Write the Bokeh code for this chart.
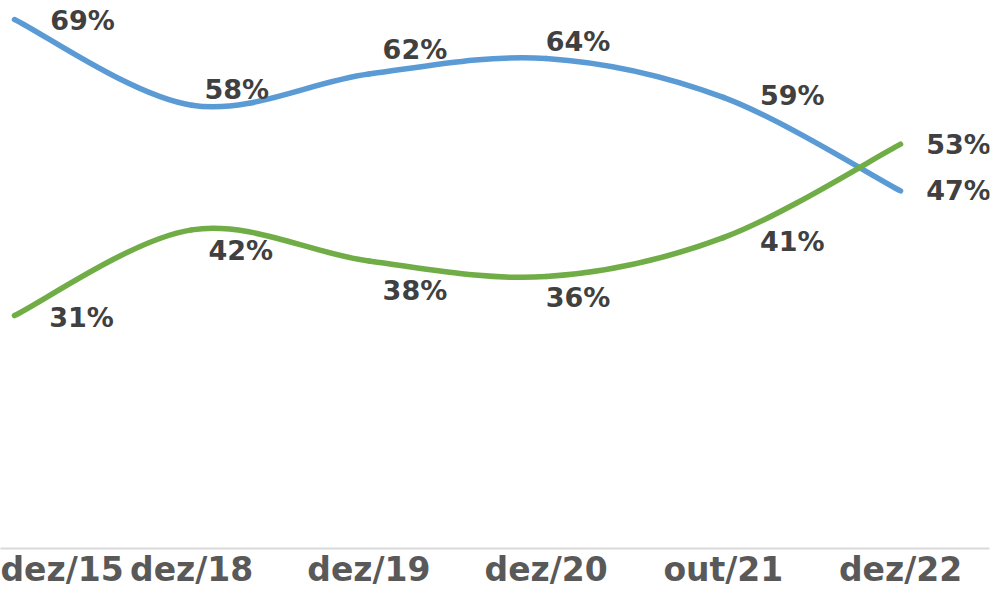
from bokeh.plotting import figure
from bokeh.models import ColumnDataSource, LabelSet, FixedTicker, Range1d
from bokeh.core.properties import value
from bokeh.embed import file_html
from bokeh.resources import INLINE

# ---- data ----
categories = ["dez/15", "dez/18", "dez/19", "dez/20", "out/21", "dez/22"]
blue_values = [69, 58, 62, 64, 59, 47]
green_values = [31, 42, 38, 36, 41, 53]

# ---- label placement (screen px offsets, styling only) ----
blue_dx = [68, 45, 46, 32, 69, 58]
blue_dy = [-1, 16, 25, 17, 2, 0]
green_dx = [67, 49, 46, 32, 69, 58]
green_dy = [-2, -21, -29, -21, -4, 0]

BLUE = "#5B9BD5"
GREEN = "#70AD47"
FONT = "DejaVu Sans"

xs = list(range(len(categories)))


def bezier_source(vals):
    n = len(vals)
    d = dict(x0=[], y0=[], x1=[], y1=[], cx0=[], cy0=[], cx1=[], cy1=[])
    for i in range(n - 1):
        pm = max(i - 1, 0)
        pn = min(i + 2, n - 1)
        d["x0"].append(xs[i]); d["y0"].append(vals[i])
        d["x1"].append(xs[i + 1]); d["y1"].append(vals[i + 1])
        d["cx0"].append(xs[i] + (xs[i + 1] - xs[pm]) / 6)
        d["cy0"].append(vals[i] + (vals[i + 1] - vals[pm]) / 6)
        d["cx1"].append(xs[i + 1] - (xs[pn] - xs[i]) / 6)
        d["cy1"].append(vals[i + 1] - (vals[pn] - vals[i]) / 6)
    return ColumnDataSource(d)


p = figure(width=991, height=591, output_backend="svg", toolbar_location=None,
           x_range=Range1d(-0.079, 5.502), y_range=Range1d(1.1, 71.44),
           min_border_left=0, min_border_right=2, min_border_top=0,
           min_border_bottom=43, background_fill_color="white",
           border_fill_color="white")
p.outline_line_color = None
p.xgrid.visible = False
p.ygrid.visible = False
p.yaxis.visible = False

for vals, col in [(blue_values, BLUE), (green_values, GREEN)]:
    p.bezier(x0="x0", y0="y0", x1="x1", y1="y1", cx0="cx0", cy0="cy0",
             cx1="cx1", cy1="cy1", source=bezier_source(vals),
             line_color=col, line_width=5.5, line_cap="round")

for vals, dx, dy in [(blue_values, blue_dx, blue_dy), (green_values, green_dx, green_dy)]:
    src = ColumnDataSource(dict(x=xs, y=vals, t=[f"{v}%" for v in vals], dx=dx, dy=dy))
    p.add_layout(LabelSet(x="x", y="y", text="t", x_offset="dx", y_offset="dy",
                          source=src, text_align="center", text_baseline="middle",
                          text_font=value(FONT), text_font_style="bold",
                          text_font_size="27px", text_color="#404040"))

ax = p.xaxis[0]
ax.ticker = FixedTicker(ticks=xs)
ax.major_label_overrides = {i: c for i, c in zip(xs, categories)}
ax.major_tick_line_color = None
ax.minor_tick_line_color = None
ax.axis_line_color = "#d9d9d9"
ax.axis_line_width = 2
ax.major_label_standoff = -5
ax.major_label_text_font = FONT
ax.major_label_text_font_style = "bold"
ax.major_label_text_font_size = "33px"
ax.major_label_text_color = "#595959"

open("out.html", "w").write(file_html(p, INLINE))
